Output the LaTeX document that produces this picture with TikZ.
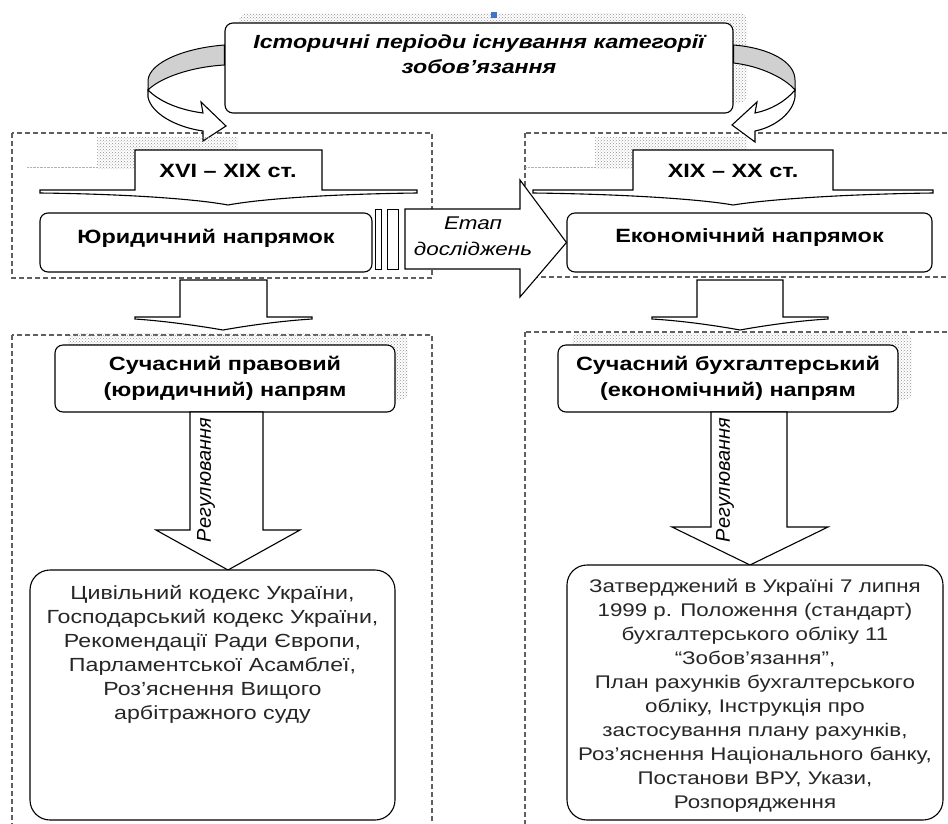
\documentclass[tikz,border=0pt]{standalone}
\usepackage{fontspec}
\setmainfont{Liberation Sans}[FakeStretch=1.22]
\newfontfamily\uprightfont{Liberation Sans}
\usepackage{xcolor}
\usepackage{tikz}
\usetikzlibrary{positioning, calc, patterns}
\definecolor{framecolor}{RGB}{95, 95, 95}
\definecolor{bandcolor}{RGB}{208, 208, 208}
\definecolor{handlecolor}{RGB}{68, 114, 196}

\begin{document}
\begin{tikzpicture}[
    x=1pt, y=-1pt,
    box/.style={draw, rounded corners=8pt, line width=1.1pt, fill=white, align=center, inner sep=0pt},
    shade/.style={pattern=crosshatch dots, pattern color=gray!85},
    region/.style={draw=framecolor, dash pattern=on 5pt off 3pt, line width=1.1pt},
    blockarrow/.style={draw, line width=1.1pt, fill=white, line join=miter},
    band/.style={draw, line width=1pt, fill=bandcolor},
    headtext/.style={font=\fontsize{19.2}{26}\selectfont\bfseries, align=center},
    bodytext/.style={font=\fontsize{19}{24}\selectfont, align=center, text=black!85},
    regtext/.style={rotate=90, font=\uprightfont\fontsize{20}{24}\selectfont\itshape}
]
    \useasboundingbox (0,0) rectangle (948,823);
    \clip (0,0) rectangle (948,823);

    % dashed regions
    \draw[region] (12,133) rectangle (432,278);
    \draw[region] (525,133) rectangle (960,277);
    \draw[region] (12,335) rectangle (432,840);
    \draw[region] (525,332) rectangle (960,840);

    % title
    \fill[shade, rounded corners=8pt] (239,13) rectangle (747,103);
    \fill[handlecolor] (491,12) rectangle (497,18);
    \node[box, minimum width=508pt, minimum height=90pt] (title) at (479,68) {};
    \node[anchor=north, font=\fontsize{19}{25}\selectfont\bfseries\itshape, align=center] (titletext) at (title.north) [yshift=-9pt] {Історичні періоди існування категорії\\зобов’язання};

    % curved arrows from the title
    \draw[band] (title.west |- 0,45) .. controls (185,48) and (150,62) .. (148,80) -- (148,90) .. controls (160,78) and (190,67) .. (title.west |- 0,65) -- cycle;
    \draw[blockarrow] (148,90) .. controls (160,102) and (180,110) .. (203,113) -- (201,102) -- (226,126) -- (203,141) -- (203,131) .. controls (175,127) and (151,113) .. (148,97) -- cycle;
    \draw[band] (title.east |- 0,45) .. controls (770,48) and (795,62) .. (795,80) -- (795,90) .. controls (785,78) and (760,66) .. (title.east |- 0,63) -- cycle;
    \draw[blockarrow] (795,90) .. controls (785,102) and (770,110) .. (755,113) -- (757,102) -- (732,125) -- (755,142) -- (755,131) .. controls (775,127) and (793,113) .. (795,97) -- cycle;

    % periods
    \fill[shade] (97,137) rectangle (238,168);
    \draw[gray!60, densely dotted] (27,167) -- (97,167);
    \fill[shade] (595,137) rectangle (747,168);
    \draw[gray!60, densely dotted] (525,167) -- (595,167);
    \draw[blockarrow] (40,190) -- (135,190) -- (135,150) -- (322,150) -- (322,190) -- (417,190) -- (417,193)
        .. controls (330,194) and (260,199) .. (228,205) .. controls (196,199) and (126,194) .. (40,193) -- cycle;
    \node[headtext] (period1) at (228,171) {XVI – XIX ст.};
    \draw[blockarrow] (533,190) -- (633,190) -- (633,150) -- (833,150) -- (833,190) -- (933,190) -- (933,193)
        .. controls (850,194) and (770,199) .. (733,205) .. controls (700,199) and (620,194) .. (533,193) -- cycle;
    \node[headtext] (period2) at (733,171) {XIX – XX ст.};

    % directions
    \node[box, minimum width=332pt, minimum height=59pt] (legal) at (206,242.5) {};
    \node[headtext] (legaltext) at (206,238) {Юридичний напрямок};
    \node[box, minimum width=365pt, minimum height=59pt] (econ) at (749.5,242.5) {};
    \node[headtext] (econtext) at (749.5,237) {Економічний напрямок};

    % research stage arrow
    \draw[line width=1pt, fill=white] (375,209) rectangle (381,269);
    \draw[line width=1pt, fill=white] (387,209) rectangle (398,269);
    \draw[blockarrow] (405,209) -- (520,209) -- (520,180) -- (econ.west) -- (520,297) -- (520,269) -- (405,269) -- cycle;
    \node[font=\fontsize{18.4}{26}\selectfont\itshape, align=center] (stage) at (473,236) {Етап\\досліджень};

    % down arrows
    \draw[blockarrow] (180,280) -- (267,280) -- (267,317) -- (312,317) -- (312,319)
        .. controls (280,321) and (245,326) .. (223,330) .. controls (200,326) and (165,321) .. (135,319) -- (135,317) -- (180,317) -- cycle;
    \draw[blockarrow] (697,280) -- (783,280) -- (783,317) -- (828,317) -- (828,319)
        .. controls (795,321) and (762,326) .. (740,330) .. controls (718,326) and (685,321) .. (652,319) -- (652,317) -- (697,317) -- cycle;

    % modern directions
    \fill[shade, rounded corners=8pt] (68,333) rectangle (408,400);
    \node[box, headtext, minimum width=340pt, minimum height=67pt] (modlegal) at (225,378.5) {Сучасний правовий\\(юридичний) напрям};
    \fill[shade, rounded corners=8pt] (572,333) rectangle (912,400);
    \node[box, headtext, minimum width=340pt, minimum height=67pt] (modecon) at (728,378.5) {Сучасний бухгалтерський\\(економічний) напрям};

    % regulation arrows
    \draw[blockarrow] (190,412) -- (263,412) -- (263,530) -- (300,530) -- (228,570) -- (156,530) -- (190,530) -- cycle;
    \node[regtext] (reg1) at (206,480) {Регулювання};
    \draw[blockarrow] (711,412) -- (787,412) -- (787,527) -- (828,527) -- (750,565) -- (672,527) -- (711,527) -- cycle;
    \node[regtext] (reg2) at (725,480) {Регулювання};

    % legal acts
    \node[box, rounded corners=20pt, minimum width=365pt, minimum height=250pt] (lawacts) at (212.5,695) {};
    \node[bodytext, anchor=north] (lawtext) at (lawacts.north) [yshift=-12pt]
        {Цивільний кодекс України,\\Господарський кодекс України,\\Рекомендації Ради Європи,\\Парламентської Асамблеї,\\Роз’яснення Вищого\\арбітражного суду};
    \node[box, rounded corners=20pt, minimum width=376pt, minimum height=255pt] (acctacts) at (755,692.5) {};
    \node[bodytext, font=\fontsize{18.3}{24}\selectfont, anchor=north] (accttext) at (acctacts.north) [yshift=-11pt]
        {Затверджений в Україні 7 липня\\1999 р. Положення (стандарт)\\бухгалтерського обліку 11\\“Зобов’язання”,\\План рахунків бухгалтерського\\обліку, Інструкція про\\застосування плану рахунків,\\Роз’яснення Національного банку,\\Постанови ВРУ, Укази,\\Розпорядження};
\end{tikzpicture}
\end{document}
